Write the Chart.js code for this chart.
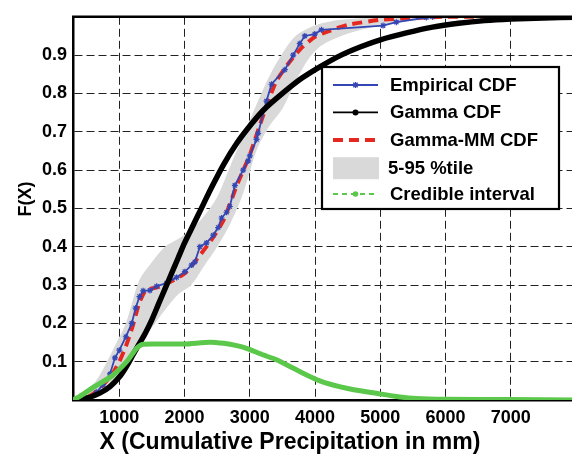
<!DOCTYPE html>
<html><head><meta charset="utf-8">
<script src="https://cdn.jsdelivr.net/npm/chart.js@4.4.1/dist/chart.umd.min.js"></script>
<style>
html,body{margin:0;padding:0;background:#fff;overflow:hidden;width:572px;height:457px}
#wrap{position:absolute;left:0;top:0;width:590px;height:457px}
</style>
</head><body><div id="wrap"><canvas id="c" width="590" height="457"></canvas></div>
<script>
// ---- tick labels ----
const xTickValues = [1000, 2000, 3000, 4000, 5000, 6000, 7000];
const yTickValues = [0.1, 0.2, 0.3, 0.4, 0.5, 0.6, 0.7, 0.8, 0.9];

// ---- Empirical CDF ----
const empX = [290, 500, 650, 750, 857, 933, 1000, 1100, 1190, 1250, 1310, 1365, 1469, 1572, 1725, 1878, 2005, 2108, 2158, 2235, 2337, 2439, 2515, 2567, 2644, 2694, 2771, 2898, 2975, 3000, 3103, 3128, 3256, 3333, 3537, 3665, 3766, 3843, 3996, 4098, 5042, 5246, 5706, 5800];
const empF = [0, 0.005, 0.02, 0.04, 0.068, 0.11, 0.13, 0.165, 0.2, 0.24, 0.27, 0.285, 0.286, 0.297, 0.305, 0.32, 0.335, 0.352, 0.36, 0.40, 0.41, 0.43, 0.45, 0.475, 0.49, 0.505, 0.56, 0.60, 0.624, 0.637, 0.68, 0.696, 0.78, 0.824, 0.862, 0.90, 0.93, 0.95, 0.955, 0.966, 0.977, 0.986, 0.998, 1.0];

// ---- Gamma CDF ----
const gamX = [290, 500, 700, 857, 1000, 1100, 1200, 1300, 1400, 1500, 1600, 1700, 1800, 1900, 2000, 2100, 2200, 2300, 2400, 2600, 2800, 3000, 3200, 3500, 3800, 4100, 4400, 4700, 5000, 5400, 5800, 6200, 6600, 7000, 7500, 8000];
const gamF = [0, 0.005, 0.018, 0.035, 0.06, 0.085, 0.115, 0.145, 0.175, 0.21, 0.25, 0.29, 0.33, 0.37, 0.41, 0.445, 0.48, 0.515, 0.55, 0.615, 0.67, 0.715, 0.755, 0.80, 0.84, 0.872, 0.90, 0.922, 0.94, 0.958, 0.973, 0.983, 0.99, 0.994, 0.997, 0.999];

// ---- Gamma-MM CDF ----
const mmX = [290, 500, 700, 900, 1000, 1100, 1200, 1300, 1400, 1600, 1800, 2000, 2200, 2400, 2600, 2800, 3000, 3200, 3400, 3600, 3800, 4000, 4200, 4500, 5000, 5500, 6000, 8000];
const mmF = [0, 0.006, 0.03, 0.07, 0.1, 0.14, 0.19, 0.25, 0.285, 0.295, 0.31, 0.33, 0.37, 0.415, 0.47, 0.56, 0.64, 0.74, 0.83, 0.88, 0.92, 0.948, 0.962, 0.979, 0.992, 0.997, 1.0, 1.0];

// ---- 5-95 %tile band ----
const bandX = [290, 500, 700, 900, 1100, 1300, 1500, 1700, 1900, 2100, 2300, 2500, 2700, 2900, 3100, 3300, 3500, 3700, 3900, 4100, 4400, 4800, 5200, 5600, 6000, 8000];
const bandUpper = [0, 0.02, 0.065, 0.13, 0.2, 0.31, 0.36, 0.40, 0.42, 0.445, 0.48, 0.53, 0.61, 0.69, 0.77, 0.845, 0.905, 0.95, 0.97, 0.983, 0.992, 0.997, 0.999, 1, 1, 1];
const bandLower = [0, 0, 0.015, 0.05, 0.1, 0.15, 0.19, 0.235, 0.275, 0.30, 0.35, 0.40, 0.46, 0.54, 0.65, 0.715, 0.76, 0.83, 0.89, 0.925, 0.95, 0.97, 0.983, 0.991, 0.995, 1];

// ---- Credible interval ----
const ciX = [290, 400, 600, 857, 1000, 1112, 1200, 1265, 1350, 1600, 2000, 2388, 2600, 2800, 2950, 3200, 3410, 3700, 4072, 4500, 4991, 5300, 5553, 6000, 7000, 8000];
const ciF = [0, 0.01, 0.033, 0.059, 0.08, 0.10, 0.12, 0.135, 0.145, 0.146, 0.146, 0.151, 0.148, 0.142, 0.135, 0.118, 0.105, 0.08, 0.05, 0.03, 0.016, 0.008, 0.004, 0.002, 0.001, 0];

const seriesNames = ['Empirical CDF', 'Gamma CDF', 'Gamma-MM CDF', '5-95 %tile', 'Credible interval'];
const axisTitleX = 'X (Cumulative Precipitation in mm)';
const axisTitleY = 'F(X)';

const pts = (xs, ys) => xs.map((x, i) => ({x: x, y: ys[i]}));
const FONT = "'Liberation Sans', Arial, Helvetica, sans-serif";
const BLUE = '#3446b4', RED = '#e4281f', GREEN = '#5cc84b', GREY = '#d9d9d9';

const overlay = {
  id: 'overlay',
  afterDraw(chart) {
    const ctx = chart.ctx, a = chart.chartArea;
    ctx.save();
    // top frame line
    ctx.strokeStyle = '#000'; ctx.lineWidth = 2.5;
    ctx.beginPath(); ctx.moveTo(a.left - 1, a.top); ctx.lineTo(a.right, a.top); ctx.stroke();
    // axis titles
    ctx.fillStyle = '#000';
    ctx.font = 'bold 23px ' + FONT;
    ctx.textAlign = 'center'; ctx.textBaseline = 'alphabetic';
    ctx.fillText(axisTitleX, 290, 449);
    ctx.save();
    ctx.translate(31, 199); ctx.rotate(-Math.PI / 2);
    ctx.font = 'bold 18px ' + FONT;
    ctx.fillText(axisTitleY, 0, 0);
    ctx.restore();
    // legend
    const bx = 322, by = 67, bw = 237, bh = 142;
    ctx.fillStyle = '#fff'; ctx.fillRect(bx, by, bw, bh);
    ctx.strokeStyle = '#000'; ctx.lineWidth = 2.2; ctx.strokeRect(bx, by, bw, bh);
    const rows = [85, 112.4, 140, 168.2, 194];
    const x1 = 333, x2 = 378, xm = 355.5;
    // Empirical
    ctx.strokeStyle = BLUE; ctx.lineWidth = 1.8; ctx.setLineDash([]);
    ctx.beginPath(); ctx.moveTo(x1, rows[0]); ctx.lineTo(x2, rows[0]); ctx.stroke();
    ctx.lineWidth = 1.3;
    ctx.beginPath();
    ctx.moveTo(xm - 3, rows[0]); ctx.lineTo(xm + 3, rows[0]);
    ctx.moveTo(xm, rows[0] - 3); ctx.lineTo(xm, rows[0] + 3);
    ctx.moveTo(xm - 2.2, rows[0] - 2.2); ctx.lineTo(xm + 2.2, rows[0] + 2.2);
    ctx.moveTo(xm - 2.2, rows[0] + 2.2); ctx.lineTo(xm + 2.2, rows[0] - 2.2);
    ctx.stroke();
    // Gamma
    ctx.strokeStyle = '#000'; ctx.lineWidth = 1.8;
    ctx.beginPath(); ctx.moveTo(x1, rows[1]); ctx.lineTo(x2, rows[1]); ctx.stroke();
    ctx.fillStyle = '#000'; ctx.beginPath(); ctx.arc(xm, rows[1], 3, 0, Math.PI * 2); ctx.fill();
    // Gamma-MM
    ctx.strokeStyle = RED; ctx.lineWidth = 4; ctx.setLineDash([10, 6]);
    ctx.beginPath(); ctx.moveTo(x1, rows[2]); ctx.lineTo(x2 + 1, rows[2]); ctx.stroke();
    // band
    ctx.setLineDash([]);
    ctx.fillStyle = GREY; ctx.fillRect(x1, rows[3] - 11, x2 - x1 + 1, 22);
    // credible
    ctx.strokeStyle = GREEN; ctx.lineWidth = 1.8; ctx.setLineDash([5, 4]);
    ctx.beginPath(); ctx.moveTo(x1, rows[4]); ctx.lineTo(x2, rows[4]); ctx.stroke();
    ctx.setLineDash([]);
    ctx.fillStyle = GREEN; ctx.beginPath(); ctx.arc(xm, rows[4], 2.8, 0, Math.PI * 2); ctx.fill();
    // texts
    ctx.fillStyle = '#000'; ctx.font = 'bold 18.5px ' + FONT;
    ctx.textAlign = 'left'; ctx.textBaseline = 'middle';
    const tx = [390, 390, 390, 388, 390];
    seriesNames.forEach((s, i) => ctx.fillText(s, tx[i], rows[i] + 1));
    ctx.restore();
  }
};

new Chart(document.getElementById('c'), {
  type: 'line',
  data: {
    datasets: [
      {label: seriesNames[4], data: pts(ciX, ciF), borderColor: GREEN, borderWidth: 5, pointRadius: 0, fill: false, order: 0, tension: 0.2},
      {label: seriesNames[1], data: pts(gamX, gamF), borderColor: '#000', borderWidth: 5.5, pointRadius: 0, fill: false, order: 1, tension: 0.3},
      {label: seriesNames[0], data: pts(empX, empF), borderColor: BLUE, borderWidth: 1.8, pointStyle: 'star', pointRadius: 3, pointBorderColor: BLUE, pointBorderWidth: 1.2, fill: false, order: 2},
      {label: seriesNames[2], data: pts(mmX, mmF), borderColor: RED, borderWidth: 4, borderDash: [10, 6], pointRadius: 0, fill: false, order: 3, tension: 0.2},
      {label: seriesNames[3] + ' upper', data: pts(bandX, bandUpper), borderWidth: 0, borderColor: GREY, backgroundColor: GREY, pointRadius: 0, fill: '+1', order: 4, tension: 0.3},
      {label: seriesNames[3] + ' lower', data: pts(bandX, bandLower), borderWidth: 0, borderColor: GREY, pointRadius: 0, fill: false, order: 5, tension: 0.3}
    ]
  },
  options: {
    responsive: false,
    animation: false,
    layout: {padding: {top: 8, right: 14, left: 0, bottom: 0}},
    plugins: {legend: {display: false}, tooltip: {enabled: false}},
    scales: {
      x: {
        type: 'linear', min: 290, max: 8000,
        afterBuildTicks: s => { s.ticks = xTickValues.map(v => ({value: v})); },
        afterFit: s => { s.height = 57; },
        ticks: {color: '#000', font: {family: FONT, size: 18, weight: 'bold'}, padding: 7, maxRotation: 0,
                callback: v => String(v)},
        grid: {color: '#222', lineWidth: 1, drawTicks: false},
        border: {display: true, color: '#000', width: 2.5, dash: [8, 4]}
      },
      y: {
        min: 0, max: 1,
        afterBuildTicks: s => { s.ticks = yTickValues.map(v => ({value: v})); },
        afterFit: s => { s.width = 73; },
        ticks: {color: '#000', font: {family: FONT, size: 18, weight: 'bold'}, padding: 6,
                callback: v => Number(v).toFixed(1)},
        grid: {color: '#222', lineWidth: 1, drawTicks: false},
        border: {display: true, color: '#000', width: 2.5, dash: [8, 4]}
      }
    }
  },
  plugins: [overlay]
});
</script>
</body></html>
